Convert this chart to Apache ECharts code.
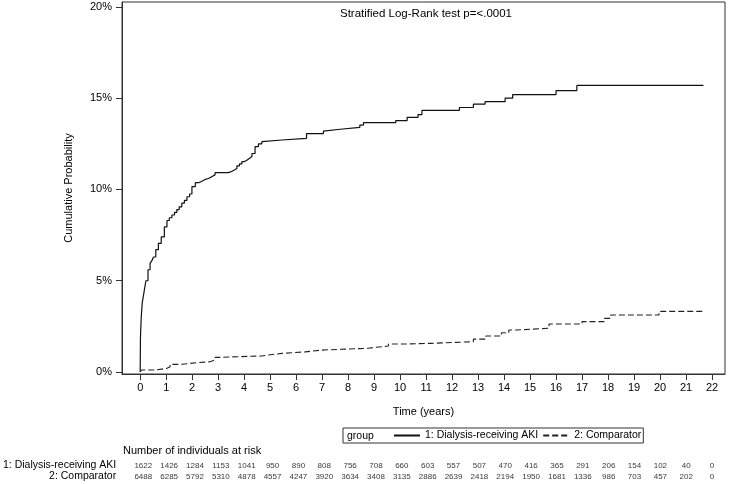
<!DOCTYPE html>
<html>
<head>
<meta charset="utf-8">
<script src="https://cdn.jsdelivr.net/npm/echarts@6/dist/echarts.min.js"></script>
<style>
html,body{margin:0;padding:0;background:#fff;}
#chart{width:731px;height:484px;}
</style>
</head>
<body>
<div id="chart"></div>
<script>
// ---- data ----
const akiTimes = [0,0.01,0.04,0.08,0.15,0.22,0.3,0.38,0.45,0.51,0.6,0.7,0.81,0.93,1.03,1.12,1.22,1.32,1.41,1.5,1.6,1.7,1.8,1.9,1.99,2.12,2.25,2.37,2.5,2.63,2.75,2.88,3.4,3.53,3.62,3.72,3.82,3.91,4.0,4.1,4.2,4.3,4.42,4.55,4.68,4.74,5.45,6.4,7.05,7.12,7.7,8.45,8.59,9.83,10.27,10.69,10.84,12.28,12.82,13.27,14.04,14.33,16.0,16.8,21.67];
const akiValues = [0,1.9,3.0,3.8,4.4,5.0,5.6,5.95,6.1,6.3,6.7,7.05,7.4,7.95,8.3,8.45,8.6,8.75,8.9,9.05,9.25,9.4,9.6,9.75,10.15,10.37,10.45,10.55,10.6,10.7,10.8,10.92,11.0,11.07,11.15,11.29,11.4,11.52,11.6,11.7,11.8,11.97,12.35,12.5,12.62,12.71,12.8,13.06,13.2,13.3,13.4,13.53,13.66,13.77,13.95,14.1,14.33,14.49,14.67,14.81,15.0,15.2,15.42,15.7,15.7];
const compTimes = [0,0.06,0.58,1.03,1.15,1.6,2.18,2.69,2.88,3.01,4.68,4.93,5.45,6.35,6.99,7.63,8.78,9.04,9.55,10.07,11.2,12.82,13.3,13.9,14.18,14.5,15.73,17.0,17.85,18.1,19.96,21.7];
const compValues = [0,0.11,0.2,0.29,0.42,0.51,0.56,0.66,0.8,0.88,0.93,1.02,1.1,1.2,1.24,1.3,1.35,1.42,1.53,1.57,1.66,1.8,1.97,2.15,2.3,2.4,2.63,2.76,2.94,3.12,3.32,3.32];
const xTicks = [0,1,2,3,4,5,6,7,8,9,10,11,12,13,14,15,16,17,18,19,20,21,22];
const yTicks = [0,5,10,15,20];
const riskTimes = [0,1,2,3,4,5,6,7,8,9,10,11,12,13,14,15,16,17,18,19,20,21,22];
const akiRisk = [1622,1426,1284,1153,1041,950,890,808,756,708,660,603,557,507,470,416,365,291,206,154,102,40,0];
const compRisk = [6488,6285,5792,5310,4878,4557,4247,3920,3634,3408,3135,2886,2639,2418,2194,1950,1681,1336,986,703,457,202,0];
const groupNames = ['1: Dialysis-receiving AKI','2: Comparator'];
const titleText = 'Stratified Log-Rank test p=<.0001';

// ---- chart ----
const FONT = 'Liberation Sans';
const chart = echarts.init(document.getElementById('chart'), null, {renderer:'canvas'});
const zip = (a,b)=>a.map((t,i)=>[t,b[i]]);
const riskData = [];
riskTimes.forEach((t,i)=>{
  riskData.push([t, groupNames[0], akiRisk[i]]);
  riskData.push([t, groupNames[1], compRisk[i]]);
});
const axisCol = '#333';
chart.setOption({
  animation:false,
  backgroundColor:'#fff',
  textStyle:{fontFamily:FONT},
  title:[
    {text:titleText, left:340, top:8, padding:0, textStyle:{fontFamily:FONT,fontSize:11.5,fontWeight:'normal',color:'#000'}},
    {text:'Number of individuals at risk', left:123, top:445, padding:0, textStyle:{fontFamily:FONT,fontSize:11,fontWeight:'normal',color:'#000'}}
  ],
  legend:{
    left:343, top:428,
    padding:[2,2,2,50],
    borderColor:'#333', borderWidth:1,
    itemWidth:26, itemHeight:8, itemGap:4,
    itemStyle:{opacity:0},
    textStyle:{fontFamily:FONT,fontSize:10.5,color:'#000'},
    data:groupNames
  },
  graphic:[
    {type:'text', left:347, top:431, style:{text:'group', font:'10.5px "Liberation Sans"', fill:'#000'}}
  ],
  grid:[
    {left:122, top:2, width:603, height:372, show:true, borderColor:axisCol, borderWidth:1},
    {left:122, top:460, width:603, height:22, show:false}
  ],
  xAxis:[
    {type:'value', gridIndex:0, min:-0.7, max:22.5,
     name:'Time (years)', nameLocation:'middle', nameGap:32,
     nameTextStyle:{fontFamily:FONT,fontSize:11,color:'#000'},
     axisLine:{show:true,onZero:false,lineStyle:{color:axisCol}},
     axisTick:{show:true,length:6,customValues:xTicks,lineStyle:{color:axisCol}},
     axisLabel:{show:true,customValues:xTicks,fontFamily:FONT,fontSize:11,color:'#000',margin:8},
     splitLine:{show:false}},
    {type:'value', gridIndex:1, min:-0.7, max:22.5, show:false}
  ],
  yAxis:[
    {type:'value', gridIndex:0, min:-0.11, max:20.27,
     name:'Cumulative Probability', nameLocation:'middle', nameGap:48,
     nameTextStyle:{fontFamily:FONT,fontSize:11,color:'#000'},
     axisLine:{show:true,onZero:false,lineStyle:{color:axisCol}},
     axisTick:{show:true,length:6,customValues:yTicks,lineStyle:{color:axisCol}},
     axisLabel:{show:true,customValues:yTicks,formatter:v=>v+'%',fontFamily:FONT,fontSize:11,color:'#000',margin:10},
     splitLine:{show:false}},
    {type:'category', gridIndex:1, data:[groupNames[1],groupNames[0]],
     axisLine:{show:false}, axisTick:{show:false},
     axisLabel:{interval:0,fontFamily:FONT,fontSize:10.5,color:'#000',margin:9}}
  ],
  series:[
    {name:groupNames[0], type:'line', step:'end', xAxisIndex:0, yAxisIndex:0,
     data:zip(akiTimes,akiValues), showSymbol:false, symbol:'none',
     lineStyle:{color:'#111',width:1.2,type:'solid'}, itemStyle:{color:'#111'}},
    {name:groupNames[1], type:'line', step:'end', xAxisIndex:0, yAxisIndex:0,
     data:zip(compTimes,compValues), showSymbol:false, symbol:'none',
     lineStyle:{color:'#222',width:1.1,type:[6,3]}, itemStyle:{color:'#222'}},
    {type:'scatter', xAxisIndex:1, yAxisIndex:1, data:riskData,
     symbolSize:1, itemStyle:{color:'rgba(0,0,0,0)'},
     label:{show:true, position:'inside', formatter:p=>String(p.value[2]), fontFamily:FONT, fontSize:8, color:'#000'},
     silent:true}
  ]
});
</script>
</body>
</html>
